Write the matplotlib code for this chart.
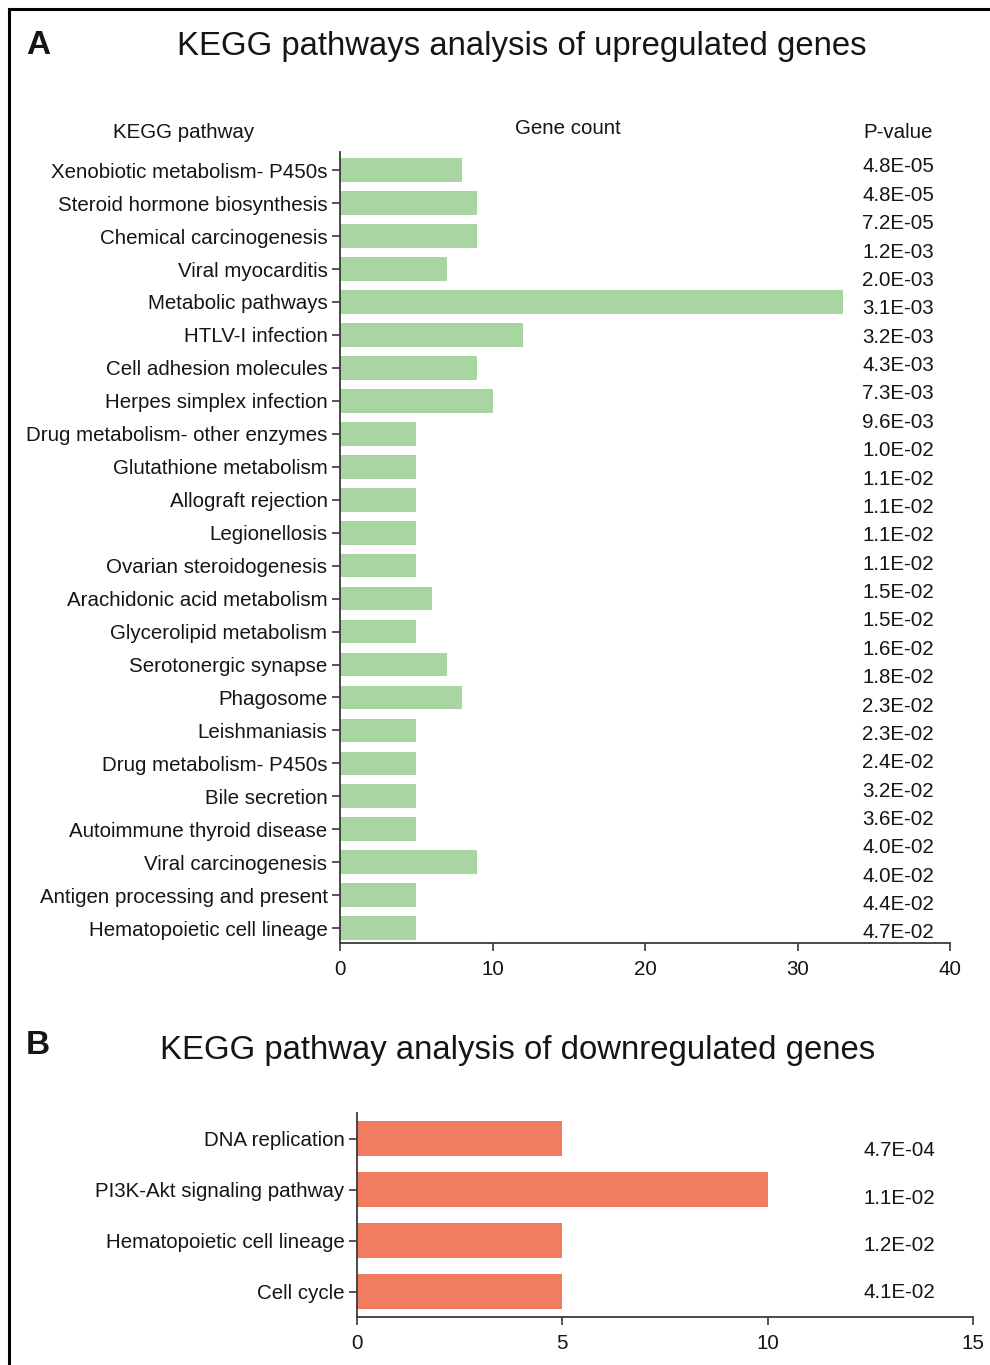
import matplotlib
matplotlib.use("Agg")
import matplotlib.pyplot as plt
from matplotlib.lines import Line2D
from matplotlib.transforms import blended_transform_factory

plt.rcParams['font.family'] = ['Liberation Sans', 'DejaVu Sans']

# Panel A: KEGG pathways of upregulated genes
up_pathways = [
    "Xenobiotic metabolism- P450s", "Steroid hormone biosynthesis",
    "Chemical carcinogenesis", "Viral myocarditis", "Metabolic pathways",
    "HTLV-I infection", "Cell adhesion molecules", "Herpes simplex infection",
    "Drug metabolism- other enzymes", "Glutathione metabolism",
    "Allograft rejection", "Legionellosis", "Ovarian steroidogenesis",
    "Arachidonic acid metabolism", "Glycerolipid metabolism",
    "Serotonergic synapse", "Phagosome", "Leishmaniasis",
    "Drug metabolism- P450s", "Bile secretion", "Autoimmune thyroid disease",
    "Viral carcinogenesis", "Antigen processing and present",
    "Hematopoietic cell lineage",
]
up_counts = [8, 9, 9, 7, 33, 12, 9, 10, 5, 5, 5, 5, 5, 6, 5, 7, 8, 5, 5, 5, 5, 9, 5, 5]
up_pvalues = [
    "4.8E-05", "4.8E-05", "7.2E-05", "1.2E-03", "2.0E-03", "3.1E-03", "3.2E-03",
    "4.3E-03", "7.3E-03", "9.6E-03", "1.0E-02", "1.1E-02", "1.1E-02", "1.1E-02",
    "1.1E-02", "1.5E-02", "1.5E-02", "1.6E-02", "1.8E-02", "2.3E-02", "2.3E-02",
    "2.4E-02", "3.2E-02", "3.6E-02", "4.0E-02", "4.0E-02", "4.4E-02", "4.7E-02",
]
up_xticks = [0, 10, 20, 30, 40]

# Panel B: KEGG pathways of downregulated genes
down_pathways = ["DNA replication", "PI3K-Akt signaling pathway",
                 "Hematopoietic cell lineage", "Cell cycle"]
down_counts = [5, 10, 5, 5]
down_pvalues = ["4.7E-04", "1.1E-02", "1.2E-02", "4.1E-02"]
down_xticks = [0, 5, 10, 15]

GREEN = "#a9d5a3"
ORANGE = "#f17c5f"
SPINE = "#3a3a3a"
TXT = "#151515"
FS = 14.8
TITLE_FS = 23.7

W, H = 990, 1365
fig = plt.figure(figsize=(W / 100, H / 100), dpi=100)


def fx(px):
    return px / W


def fy(py):
    return 1 - py / H


def style_axes(ax, xmax, xticks):
    ax.set_xlim(0, xmax)
    ax.set_xticks(xticks)
    for side in ("top", "right"):
        ax.spines[side].set_visible(False)
    for side in ("left", "bottom"):
        ax.spines[side].set_color(SPINE)
        ax.spines[side].set_linewidth(1.3)
    ax.tick_params(axis="both", colors=SPINE, length=6, width=1.2,
                   labelsize=FS, labelcolor=TXT, pad=3)
    ax.tick_params(axis="x", pad=6)


# ---- Panel A ----
axA = fig.add_axes([fx(340), fy(943), fx(950) - fx(340), fy(152) - fy(943)])
yA = list(range(len(up_pathways)))
axA.barh(yA, up_counts, height=0.72, color=GREEN, edgecolor="none")
axA.set_yticks(yA)
axA.set_yticklabels(up_pathways)
axA.set_ylim(len(up_pathways) - 0.55, -0.55)
style_axes(axA, 40, up_xticks)

# P-value column, evenly spaced down the height of the axes
blendA = blended_transform_factory(fig.transFigure, axA.transAxes)
n = len(up_pvalues)
top_f, bot_f = 1 - (167 - 152) / 791, 1 - (933 - 152) / 791
for i, p in enumerate(up_pvalues):
    yf = top_f + (bot_f - top_f) * i / (n - 1)
    axA.text(fx(898), yf, p, transform=blendA, ha="center", va="center",
             fontsize=FS, color=TXT)

fig.text(fx(38), fy(46), "A", ha="center", va="center", fontsize=24,
         fontweight="bold", color=TXT)
fig.text(fx(522), fy(47), "KEGG pathways analysis of upregulated genes",
         ha="center", va="center", fontsize=TITLE_FS, color=TXT)
fig.text(fx(184), fy(132), "KEGG pathway", ha="center", va="center",
         fontsize=FS, color=TXT)
fig.text(fx(568), fy(128), "Gene count", ha="center", va="center",
         fontsize=FS, color=TXT)
fig.text(fx(898), fy(133), "P-value", ha="center", va="center",
         fontsize=FS, color=TXT)

# ---- Panel B ----
axB = fig.add_axes([fx(357), fy(1317), fx(973) - fx(357), fy(1113) - fy(1317)])
yB = list(range(len(down_pathways)))
axB.barh(yB, down_counts, height=0.69, color=ORANGE, edgecolor="none")
axB.set_yticks(yB)
axB.set_yticklabels(down_pathways)
axB.set_ylim(len(down_pathways) - 0.5, -0.5)
style_axes(axB, 15, down_xticks)

m = len(down_pvalues)
top_b, bot_b = 1 - (1151 - 1113) / 204, 1 - (1293 - 1113) / 204
blendB = blended_transform_factory(fig.transFigure, axB.transAxes)
for i, p in enumerate(down_pvalues):
    yf = top_b + (bot_b - top_b) * i / (m - 1)
    axB.text(fx(899), yf, p, transform=blendB, ha="center", va="center",
             fontsize=FS, color=TXT)

fig.text(fx(38), fy(1045), "B", ha="center", va="center", fontsize=24,
         fontweight="bold", color=TXT)
fig.text(fx(518), fy(1050), "KEGG pathway analysis of downregulated genes",
         ha="center", va="center", fontsize=TITLE_FS, color=TXT)

# Frame lines along the left and top edges
fig.add_artist(Line2D([fx(9), fx(9)], [fy(9), 0], transform=fig.transFigure,
                      color="black", linewidth=2.2, solid_capstyle="projecting"))
fig.add_artist(Line2D([fx(9), 1], [fy(9), fy(9)], transform=fig.transFigure,
                      color="black", linewidth=2.2, solid_capstyle="projecting"))

fig.savefig("out.png", dpi=100, facecolor="white")
